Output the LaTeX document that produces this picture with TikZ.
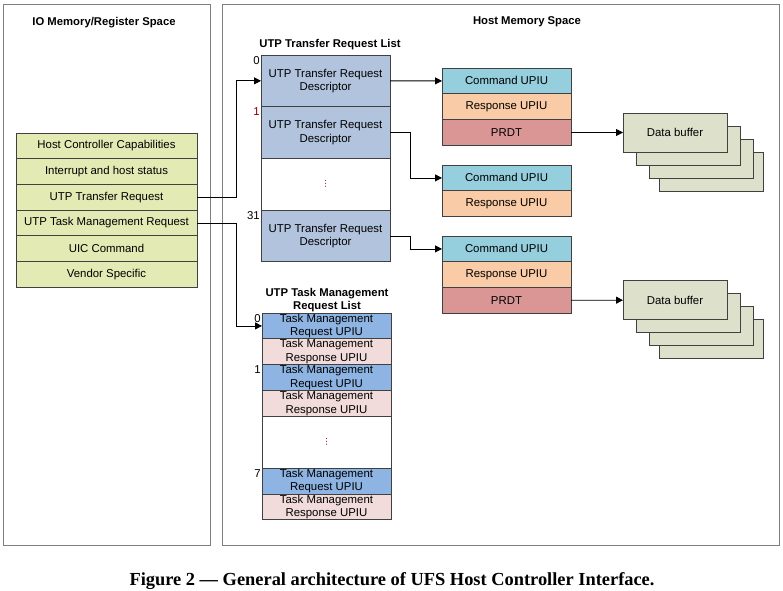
\documentclass[tikz,border=0pt]{standalone}
\usepackage{fontspec}
\setmainfont{Liberation Sans}
\newfontfamily\capfont{Liberation Serif}
\newfontfamily\symfont{DejaVu Sans}
\usetikzlibrary{arrows.meta,positioning,calc}
\definecolor{framegray}{HTML}{7F7F7F}
\definecolor{cellgray}{HTML}{404040}
\definecolor{regfill}{HTML}{E3EAB4}
\definecolor{descfill}{HTML}{B2C3DD}
\definecolor{cmdfill}{HTML}{95CEDC}
\definecolor{rspfill}{HTML}{F9CBA6}
\definecolor{prdtfill}{HTML}{D99694}
\definecolor{tmreqfill}{HTML}{8EB4E3}
\definecolor{tmrspfill}{HTML}{F2DCDB}
\definecolor{buffill}{HTML}{DDE0CA}
\definecolor{darkred}{HTML}{8B0000}
\tikzset{
  >={Triangle[length=7pt,width=7pt]},
  frame/.style={draw=framegray, line width=1pt, anchor=north west, minimum height=541pt},
  title/.style={font=\fontsize{11.3}{13.5}\selectfont\bfseries, align=center},
  cell/.style={draw=cellgray, line width=0.9pt, align=center, inner sep=0pt, outer sep=0pt},
  reg/.style={cell, fill=regfill, minimum width=181pt, minimum height=25.7pt},
  desc/.style={cell, fill=descfill, minimum width=129pt, minimum height=51.7pt},
  gapcell/.style={cell, fill=white, minimum width=129pt, minimum height=51.7pt},
  cmd/.style={cell, fill=cmdfill, minimum width=129pt, minimum height=25.8pt},
  rsp/.style={cell, fill=rspfill, minimum width=129pt, minimum height=25.8pt},
  prdt/.style={cell, fill=prdtfill, minimum width=129pt, minimum height=25.8pt},
  tmreq/.style={cell, fill=tmreqfill, minimum width=129pt, minimum height=25.85pt},
  tmrsp/.style={cell, fill=tmrspfill, minimum width=129pt, minimum height=25.85pt},
  buf/.style={cell, fill=buffill, minimum width=104pt, minimum height=39pt},
  idx/.style={inner sep=1pt, anchor=north east},
  conn/.style={->, line width=0.8pt},
}
\newcommand{\vdotsred}{\textcolor{darkred}{\symfont\fontsize{8.5}{9}\selectfont ⋮}}

\begin{document}
\begin{tikzpicture}[x=1pt, y=-1pt, font=\fontsize{11.4}{13.5}\selectfont]
  \useasboundingbox (0,0) rectangle (783,590);

  % the two address spaces
  \node[frame, minimum width=207pt] (iospace) at (3,4) {};
  \node[frame, minimum width=557pt] (hostspace) at (222,4) {};
  \node[title] (iotitle) at (104,23) {IO Memory/Register Space};
  \node[title] (hosttitle) at (527,22) {Host Memory Space};

  % register space
  \node[reg, anchor=north west] (hcc) at (16,133) {Host Controller Capabilities};
  \node[reg, below=0pt of hcc] (irq) {Interrupt and host status};
  \node[reg, below=0pt of irq] (utr) {UTP Transfer Request};
  \node[reg, below=0pt of utr] (utmr) {UTP Task Management Request};
  \node[reg, below=0pt of utmr] (uic) {UIC Command};
  \node[reg, below=0pt of uic] (vendor) {Vendor Specific};

  % transfer request list
  \node[title] (utrltitle) at (330,45) {UTP Transfer Request List};
  \node[desc, anchor=north west] (d0) at (261,55) {UTP Transfer Request\\Descriptor};
  \node[desc, below=0pt of d0] (d1) {UTP Transfer Request\\Descriptor};
  \node[gapcell, below=0pt of d1] (dgap) {\vdotsred};
  \node[desc, below=0pt of dgap] (d31) {UTP Transfer Request\\Descriptor};
  \node[idx] (d0idx) at (d0.north west) {0};
  \node[idx, text=darkred] (d1idx) at (d1.north west) {1};
  \node[idx] (d31idx) at (d31.north west) {31};

  % UPIUs and PRDTs
  \node[cmd, anchor=north west] (c1) at (442,68) {Command UPIU};
  \node[rsp, below=0pt of c1] (r1) {Response UPIU};
  \node[prdt, below=0pt of r1] (p1) {PRDT};
  \node[cmd, anchor=north west] (c2) at (442,165) {Command UPIU};
  \node[rsp, below=0pt of c2] (r2) {Response UPIU};
  \node[cmd, anchor=north west] (c3) at (442,236) {Command UPIU};
  \node[rsp, below=0pt of c3] (r3) {Response UPIU};
  \node[prdt, below=0pt of r3] (p3) {PRDT};

  % data buffers, back ones first
  \foreach \s/\dx/\dy in {3/36/39, 2/26/26, 1/13/13} {
    \node[buf] (ba-\s) at (675+\dx, 132.5+\dy) {};
    \node[buf] (bb-\s) at (675+\dx, 300+\dy) {};
  }
  \node[buf] (ba) at (675,132.5) {Data buffer};
  \node[buf] (bb) at (675,300) {Data buffer};

  % task management request list
  \node[title] (tmltitle) at (327,300) {UTP Task Management\\Request List};
  \node[tmreq, anchor=north west] (q0) at (262,313) {Task Management\\Request UPIU};
  \node[tmrsp, below=0pt of q0] (s0) {Task Management\\Response UPIU};
  \node[tmreq, below=0pt of s0] (q1) {Task Management\\Request UPIU};
  \node[tmrsp, below=0pt of q1] (s1) {Task Management\\Response UPIU};
  \node[gapcell, below=0pt of s1] (tgap) {\vdotsred};
  \node[tmreq, below=0pt of tgap] (q7) {Task Management\\Request UPIU};
  \node[tmrsp, below=0pt of q7] (s7) {Task Management\\Response UPIU};
  \node[idx] (q0idx) at (q0.north west) {0};
  \node[idx] (q1idx) at (q1.north west) {1};
  \node[idx] (q7idx) at (q7.north west) {7};

  % connectors
  \draw[conn] (utr.east) -- ++(39,0) |- (d0.west);
  \draw[conn] (utmr.east) -- ++(39,0) |- (q0.west);
  \draw[conn] (d0.east) -- (c1.west);
  \draw[conn] (d1.east) -- ++(20,0) |- (c2.west);
  \draw[conn] (d31.east) -- ++(20,0) |- (c3.west);
  \draw[conn] (p1) -- (ba);
  \draw[conn] (p3) -- (bb);

  % caption
  \node[font=\capfont\bfseries\fontsize{18.4}{20}\selectfont] (caption) at (392,581)
    {Figure 2 — General architecture of UFS Host Controller Interface.};
\end{tikzpicture}
\end{document}
